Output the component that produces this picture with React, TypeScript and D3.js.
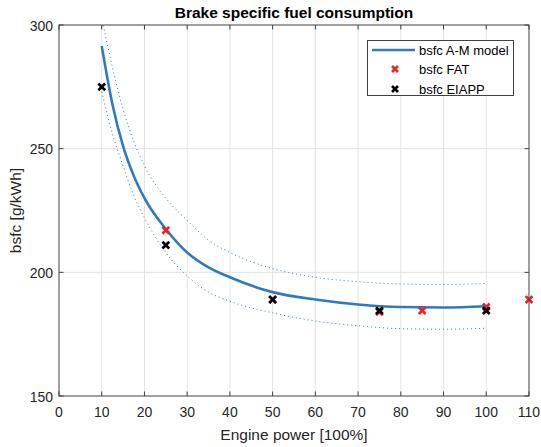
import React from "react";
import * as d3 from "d3";

const modelX = [10, 12.5, 15, 17.5, 20, 25, 30, 35, 40, 50, 60, 70, 80, 90, 100];
const modelY = [291.5, 268, 251, 239, 230, 217.5, 208, 202, 198, 192, 189, 187, 186, 185.8, 186.3];
const upperY = [303, 283, 266, 253, 243, 230, 221, 213, 208, 201.5, 198, 196.2, 195.3, 195.1, 195.5];
const lowerY = [273, 256, 243, 231, 222, 208, 198.5, 192, 188.3, 183.6, 180.3, 178.4, 177.2, 177, 177.4];

const fatX = [25, 50, 75, 85, 100, 110];
const fatY = [217, 189, 184, 184.5, 186, 189];
const eiappX = [10, 25, 50, 75, 100];
const eiappY = [275, 211, 189, 184.5, 184.5];

const xTicks = [0, 10, 20, 30, 40, 50, 60, 70, 80, 90, 100, 110];
const yTicks = [150, 200, 250, 300];

const W = 541, H = 447;
const L = 59, R = 529, T = 25, B = 396;
const FONT = "'Liberation Sans', Arial, Helvetica, sans-serif";
const BLUE = "#2f7abd";
const RED = "#e8262a";
const AX = "#404040";

function XMark({ x, y, color, s = 3.4 }: { x: number; y: number; color: string; s?: number }) {
  return (
    <path
      d={`M${x - s},${y - s}L${x + s},${y + s}M${x - s},${y + s}L${x + s},${y - s}`}
      stroke={color}
      strokeWidth={2.7}
      fill="none"
    />
  );
}

export default function App() {
  const x = d3.scaleLinear().domain([0, 110]).range([L, R]);
  const y = d3.scaleLinear().domain([150, 300]).range([B, T]);
  const line = (ys: number[]) =>
    d3
      .line<number>()
      .x((_, i) => x(modelX[i]))
      .y((d) => y(d))
      .curve(d3.curveMonotoneX)(ys) || "";

  return (
    <svg width={W} height={H} style={{ position: "absolute", left: 0, top: 0, background: "#fff" }} fontFamily={FONT}>
      <defs>
        <clipPath id="plot">
          <rect x={L} y={T} width={R - L} height={B - T} />
        </clipPath>
      </defs>
      <rect x={0} y={0} width={W} height={H} fill="#fff" />
      {xTicks.slice(1, -1).map((t) => (
        <line key={"gx" + t} x1={x(t)} x2={x(t)} y1={T} y2={B} stroke="#e3e3e3" strokeWidth={1} />
      ))}
      {yTicks.slice(1, -1).map((t) => (
        <line key={"gy" + t} x1={L} x2={R} y1={y(t)} y2={y(t)} stroke="#e3e3e3" strokeWidth={1} />
      ))}
      <g clipPath="url(#plot)">
        <path d={line(upperY)} fill="none" stroke={BLUE} strokeWidth={1} strokeDasharray="1 3" />
        <path d={line(lowerY)} fill="none" stroke={BLUE} strokeWidth={1} strokeDasharray="1 3" />
        <path d={line(modelY)} fill="none" stroke={BLUE} strokeWidth={2.6} />
      </g>
      {fatX.map((v, i) => (
        <XMark key={"f" + i} x={x(v)} y={y(fatY[i])} color={RED} />
      ))}
      {eiappX.map((v, i) => (
        <XMark key={"e" + i} x={x(v)} y={y(eiappY[i])} color="#000" />
      ))}
      <rect x={L} y={T} width={R - L} height={B - T} fill="none" stroke={AX} strokeWidth={1} />
      {xTicks.map((t) => (
        <g key={"tx" + t}>
          <line x1={x(t)} x2={x(t)} y1={B} y2={B - 4.5} stroke={AX} />
          <line x1={x(t)} x2={x(t)} y1={T} y2={T + 4.5} stroke={AX} />
          <text x={x(t)} y={B + 21} textAnchor="middle" fontSize={14} fill="#262626">
            {t}
          </text>
        </g>
      ))}
      {yTicks.map((t) => (
        <g key={"ty" + t}>
          <line x1={L} x2={L + 4.5} y1={y(t)} y2={y(t)} stroke={AX} />
          <line x1={R} x2={R - 4.5} y1={y(t)} y2={y(t)} stroke={AX} />
          <text x={L - 6} y={y(t) + 5.5} textAnchor="end" fontSize={14} fill="#262626">
            {t}
          </text>
        </g>
      ))}
      <text x={(L + R) / 2} y={440} textAnchor="middle" fontSize={15.5} fill="#262626">
        Engine power [100%]
      </text>
      <text
        transform={`translate(21,${(T + B) / 2}) rotate(-90)`}
        textAnchor="middle"
        fontSize={15.5}
        fill="#262626"
      >
        bsfc [g/kWh]
      </text>
      <text x={(L + R) / 2} y={18} textAnchor="middle" fontSize={15.5} fontWeight="bold" fill="#000">
        Brake specific fuel consumption
      </text>
      <g>
        <rect x={367.5} y={40.5} width={146} height={55} fill="#fff" stroke={AX} strokeWidth={1} />
        <line x1={372} x2={415} y1={50} y2={50} stroke={BLUE} strokeWidth={2.6} />
        <text x={419} y={54.5} fontSize={13} fill="#000">bsfc A-M model</text>
        <XMark x={395} y={69} color={RED} s={3} />
        <text x={419} y={73.5} fontSize={13} fill="#000">bsfc FAT</text>
        <XMark x={395} y={89} color="#000" s={3} />
        <text x={419} y={93.5} fontSize={13} fill="#000">bsfc EIAPP</text>
      </g>
    </svg>
  );
}
